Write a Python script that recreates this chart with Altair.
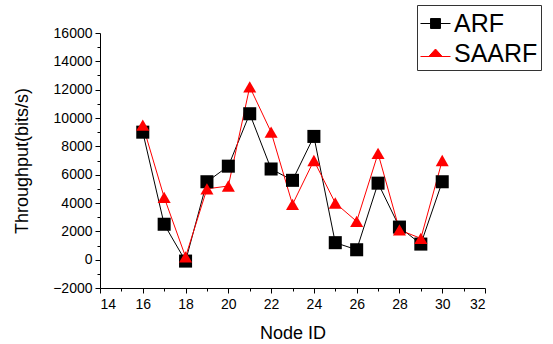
import altair as alt
import pandas as pd

nodes = [16, 17, 18, 19, 20, 21, 22, 23, 24, 25, 26, 27, 28, 29, 30]
arf = [9000, 2500, -100, 5500, 6600, 10300, 6400, 5600, 8700, 1200, 700, 5400, 2300, 1100, 5500]
saarf = [9500, 4400, 200, 5000, 5200, 12200, 9000, 3900, 7000, 4000, 2700, 7500, 2100, 1500, 7000]
series = ["ARF", "SAARF"]
colors = ["black", "#ff0000"]
x_ticks = [14, 16, 18, 20, 22, 24, 26, 28, 30, 32]
x_minor = [15, 17, 19, 21, 23, 25, 27, 29, 31]
y_ticks = list(range(-2000, 16001, 2000))
y_minor = list(range(-1000, 16000, 2000))

rows = []
for n, a in zip(nodes, arf):
    rows.append({"node": n, "value": a, "series": "ARF", "key": "ARF"})
for n, s in zip(nodes, saarf):
    rows.append({"node": n, "value": s, "series": "SAARF", "key": "SAARF"})
df = pd.DataFrame(rows)

FONT = "Liberation Sans"

xscale = alt.Scale(domain=[14, 32], nice=False, zero=False)
yscale = alt.Scale(domain=[-2000, 16000], nice=False, zero=False)
cscale = alt.Scale(domain=series, range=colors)

sq = "M-1,0H-0.33M0.33,0H1M-0.33,-0.33H0.33V0.33H-0.33Z"
tri = "M-1,0.2H1M-0.45,0.2L0,-0.3L0.45,0.2Z"

legend = alt.Legend(
    title=None, orient="none", legendX=317, legendY=-28,
    labelFont=FONT, labelFontSize=25, labelColor="black", labelOffset=3,
    symbolSize=900, symbolStrokeWidth=1, symbolOpacity=1, rowPadding=1,
    padding=3, strokeColor="#333333", fillColor="white",
)

xaxis = alt.Axis(values=x_ticks, format="d", title="Node ID", grid=False,
                 domainColor="black", tickColor="black", tickSize=5,
                 labelFont=FONT, labelFontSize=14, labelColor="black",
                 labelPadding=4, titleFont=FONT, titleFontSize=18,
                 titleFontWeight="normal", titleColor="black", titlePadding=13,
                 orient="bottom")
yaxis = alt.Axis(values=y_ticks, format="d", title="Throughput(bits/s)", grid=False,
                 domainColor="black", tickColor="black", tickSize=5,
                 labelFont=FONT, labelFontSize=14, labelColor="black",
                 labelPadding=3, titleFont=FONT, titleFontSize=18,
                 titleFontWeight="normal", titleColor="black", titlePadding=21,
                 orient="left")

base = alt.Chart(df)

lines = base.mark_line(strokeWidth=1).encode(
    x=alt.X("node:Q", scale=xscale, axis=xaxis),
    y=alt.Y("value:Q", scale=yscale, axis=yaxis),
    color=alt.Color("series:N", scale=cscale, legend=None),
    detail="series:N",
)

points = base.mark_point(filled=True, opacity=1, size=170).encode(
    x=alt.X("node:Q", scale=xscale, axis=None),
    y=alt.Y("value:Q", scale=yscale, axis=None),
    color=alt.Color("series:N", scale=cscale, legend=None),
    shape=alt.Shape("series:N", scale=alt.Scale(domain=series, range=["square", "triangle-up"]), legend=None),
    order=alt.Order("series:N"),
)

legend_layer = base.mark_point(filled=True, opacity=0, strokeWidth=1).encode(
    x=alt.X("node:Q", scale=xscale, axis=None),
    y=alt.Y("value:Q", scale=yscale, axis=None),
    fill=alt.Fill("key:N", scale=cscale, legend=legend),
    stroke=alt.Stroke("key:N", scale=cscale, legend=legend),
    shape=alt.Shape("key:N", scale=alt.Scale(domain=series, range=[sq, tri]), legend=legend),
)

minor = base.mark_point(opacity=0).encode(
    x=alt.X("node:Q", scale=xscale,
            axis=alt.Axis(values=x_minor, labels=False, title=None, grid=False, domain=False,
                          tickColor="black", tickSize=3, orient="bottom")),
    y=alt.Y("value:Q", scale=yscale,
            axis=alt.Axis(values=y_minor, labels=False, title=None, grid=False, domain=False,
                          tickColor="black", tickSize=3, orient="left")),
)

chart = alt.layer(lines, points, legend_layer, minor).resolve_axis(
    x="independent", y="independent"
).resolve_scale(color="independent", fill="independent", stroke="independent", shape="independent").properties(
    width=385, height=255,
    autosize=alt.AutoSizeParams(type="none"),
    padding={"left": 100, "top": 33, "right": 68, "bottom": 56},
).configure_view(stroke=None).configure_axis(titleFontWeight="normal")

chart.save("out.html", embed_options={"renderer": "svg", "actions": False})
